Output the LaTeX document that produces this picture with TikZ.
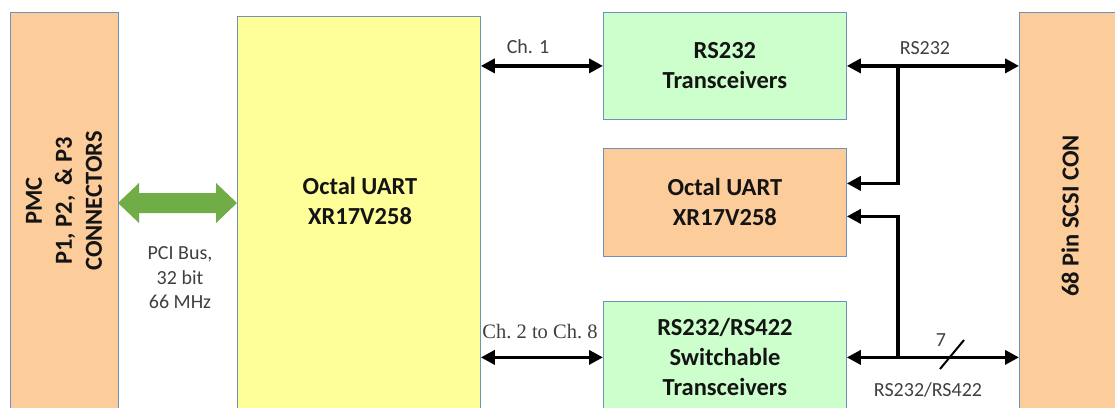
\documentclass[tikz,border=0pt]{standalone}
\usepackage{fontspec}
\setmainfont{Carlito}
\newfontfamily\timesfont{Liberation Serif}
\usetikzlibrary{arrows.meta}
\definecolor{peach}{RGB}{252,204,155}
\definecolor{lyellow}{RGB}{255,255,153}
\definecolor{lgreen}{RGB}{204,255,204}
\definecolor{bordc}{RGB}{110,145,190}
\definecolor{pcigreen}{RGB}{112,173,71}
\definecolor{labgray}{RGB}{64,64,64}
\begin{document}
\begin{tikzpicture}[x=1pt,y=-1pt,
 box/.style={draw=bordc, line width=0.8pt, inner sep=0pt, anchor=north west},
 boxtext/.style={font=\fontsize{24.5}{30}\selectfont\bfseries, text=black!92, align=center},
 lab/.style={font=\fontsize{20}{24.5}\selectfont, text=labgray, align=center, inner sep=0pt},
 bus/.style={line width=3.8pt, {Triangle[length=14pt,width=14pt]}-{Triangle[length=14pt,width=14pt]}},
 toarrow/.style={line width=3.8pt, -{Triangle[length=14pt,width=14pt]}}]
\useasboundingbox (0,0) rectangle (1115,407);
\clip (0,0) rectangle (1115,407);
\fill[white] (0,0) rectangle (1115,407);
% boxes
\node[box, fill=peach, minimum width=108pt, minimum height=420pt] (pmc) at (10,12) {};
\node[box, fill=lyellow, minimum width=243pt, minimum height=420pt] (yel) at (237,16) {};
\node[box, fill=lgreen, minimum width=243pt, minimum height=107pt, boxtext] (rs) at (603,12) {RS232\\Transceivers};
\node[box, fill=peach, minimum width=243pt, minimum height=108pt, boxtext] (uart) at (603,148) {Octal UART\\XR17V258};
\node[box, fill=lgreen, minimum width=243pt, minimum height=112pt, boxtext] (sw) at (603,301) {RS232/RS422\\Switchable\\Transceivers};
\node[box, fill=peach, minimum width=120pt, minimum height=420pt] (scsi) at (1019,12) {};
% box texts
\node[boxtext, rotate=90] (pmct) at (64,201) {PMC\\P1, P2,\, \& P3\\CONNECTORS};
\node[boxtext] (yelt) at (360,201) {Octal UART\\XR17V258};
\node[boxtext, rotate=90] (scsit) at (1070,216) {68 Pin SCSI CON};
% PCI bus arrow
\fill[pcigreen] (118,203) -- (139,183) -- (139,193) -- (216,193) -- (216,183) -- (237,203)
  -- (216,223) -- (216,213) -- (139,213) -- (139,223) -- cycle;
\node[lab] (pci) at (180,278) {PCI Bus,\\32 bit\\ 66 MHz};
% channel links
\draw[bus] (yel.east |- rs.west) -- (rs.west);
\node[lab] (ch1) at (528,47) {Ch. 1};
\draw[bus] (yel.east |- sw.west) -- (sw.west);
\node[lab, font=\timesfont\fontsize{20.5}{22}\selectfont] (ch2) at (540,332) {Ch.\ 2 to Ch.\ 8};
% right side
\coordinate (xj) at (898,0);
\coordinate (j1) at (rs.east -| xj);
\coordinate (j2) at (sw.east -| xj);
\draw[bus] (rs.east) -- (scsi.west |- rs.east);
\node[lab] (rsl) at (925,48) {RS232};
\draw[bus] (sw.east) -- (scsi.west |- sw.east);
\node[lab] (rs4l) at (928,390) {RS232/RS422};
\draw[toarrow] (j1) |- ([yshift=19pt]uart.east);
\draw[toarrow] (j2) |- ([yshift=-14pt]uart.east);
\draw[line width=2pt] (940,369) -- (964,340);
\node[lab] (seven) at (941,340) {7};
\end{tikzpicture}
\end{document}
